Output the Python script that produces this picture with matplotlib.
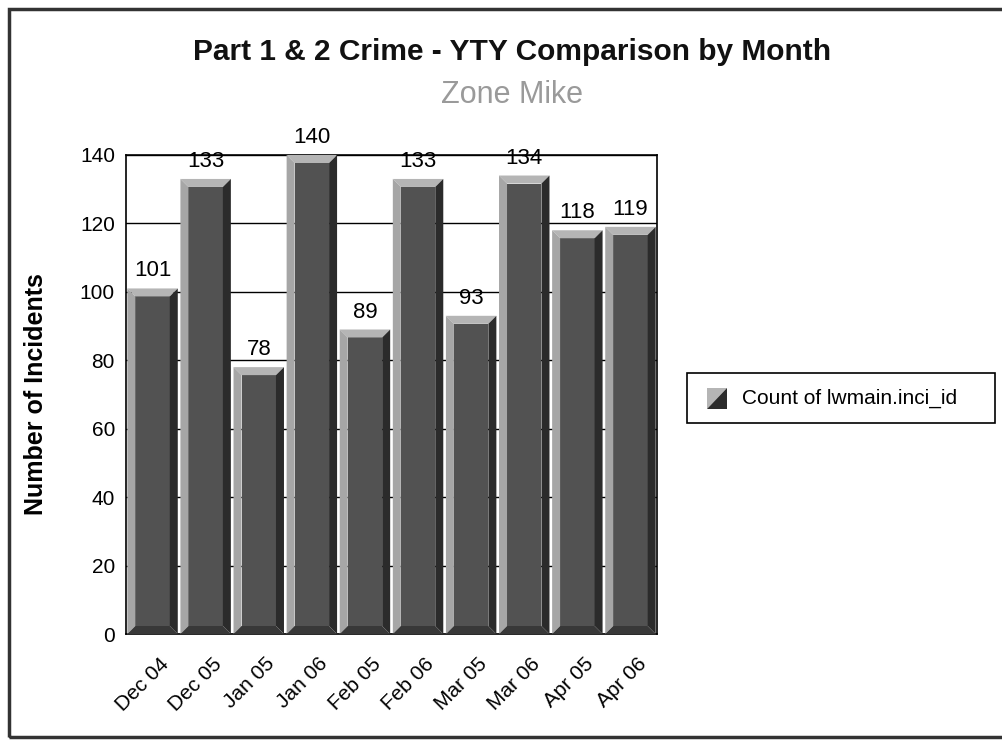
import matplotlib
matplotlib.use("Agg")
import matplotlib.pyplot as plt
from matplotlib.patches import Polygon, Rectangle
from matplotlib.transforms import ScaledTranslation
import numpy as np

plt.rcParams["font.family"] = ["Liberation Sans", "DejaVu Sans"]

# data
MONTHS = ["Dec 04", "Dec 05", "Jan 05", "Jan 06", "Feb 05",
          "Feb 06", "Mar 05", "Mar 06", "Apr 05", "Apr 06"]
COUNTS = [101, 133, 78, 140, 89, 133, 93, 134, 118, 119]
Y_TICKS = [0, 20, 40, 60, 80, 100, 120, 140]

TITLE = "Part 1 & 2 Crime - YTY Comparison by Month"
SUBTITLE = "Zone Mike"
Y_LABEL = "Number of Incidents"
SERIES_NAME = "Count of lwmain.inci_id"

W, H = 1002, 742
FACE = "#525252"
LIGHT = "#a6a6a6"
TOP = "#b5b5b5"
DARK = "#2b2b2b"
BOTTOM = "#383838"


def px(x, y):
    """figure pixel (from top-left) -> figure fraction"""
    return x / W, 1 - y / H


def bevel_bar(ax, xc, value, width, bx, by):
    x0, x1 = xc - width / 2, xc + width / 2
    # face
    ax.add_patch(Rectangle((x0 + bx, by), width - 2 * bx, value - 2 * by,
                           facecolor=FACE, edgecolor="none", zorder=3))
    # top bevel
    ax.add_patch(Polygon([(x0, value), (x1, value), (x1 - bx, value - by),
                          (x0 + bx, value - by)],
                         facecolor=TOP, edgecolor="none", zorder=3))
    # left bevel
    ax.add_patch(Polygon([(x0, value), (x0 + bx, value - by), (x0 + bx, by),
                          (x0, 0)],
                         facecolor=LIGHT, edgecolor="none", zorder=3))
    # right side
    ax.add_patch(Polygon([(x1, value), (x1 - bx, value - by), (x1 - bx, by),
                          (x1, 0)],
                         facecolor=DARK, edgecolor="none", zorder=3))
    # bottom
    ax.add_patch(Polygon([(x0, 0), (x0 + bx, by), (x1 - bx, by), (x1, 0)],
                         facecolor=BOTTOM, edgecolor="none", zorder=3))


fig = plt.figure(figsize=(W / 100, H / 100), dpi=100)
fig.patch.set_facecolor("white")

left, top = px(126, 155)
right, bottom = px(657, 634)
ax = fig.add_axes([left, bottom, right - left, top - bottom])

n = len(MONTHS)
xs = np.arange(n)
ax.set_xlim(-0.5, n - 0.5)
ax.set_ylim(0, 140)

ax_w_px = (right - left) * W
ax_h_px = (top - bottom) * H
bx = 8 / (ax_w_px / n)
by = 8 / (ax_h_px / 140)

for xc, v in zip(xs, COUNTS):
    bevel_bar(ax, xc, v, 0.95, bx, by)
    ax.annotate(str(v), (xc, v), xytext=(0, 5), textcoords="offset points",
                ha="center", va="bottom", fontsize=16, color="black", zorder=5)

ax.set_yticks(Y_TICKS)
ax.set_yticklabels([str(t) for t in Y_TICKS], fontsize=15)
ax.yaxis.grid(True, color="black", linewidth=1.0, zorder=0)
ax.set_axisbelow(True)
ax.tick_params(axis="y", length=0, pad=8)
ax.tick_params(axis="x", length=0, pad=2)

ax.set_xticks(xs)
ax.set_xticklabels(MONTHS, fontsize=15, rotation=45, ha="right",
                   va="center", rotation_mode="anchor")
offset = ScaledTranslation(13 / 100, -24 / 100, fig.dpi_scale_trans)
for lbl in ax.get_xticklabels():
    lbl.set_transform(lbl.get_transform() + offset)

for sp in ax.spines.values():
    sp.set_color("black")
    sp.set_linewidth(1.2)

ax.set_ylabel(Y_LABEL, fontsize=18, fontweight="bold")
ax.yaxis.set_label_coords((48 / W - left) / (right - left), 0.5,
                          transform=ax.transAxes)

fig.text(*px(512, 52), TITLE, ha="center", va="center", fontsize=21.5,
         fontweight="bold", color="#111111")
fig.text(*px(512, 95), SUBTITLE, ha="center", va="center", fontsize=22,
         color="#9a9a9a")

# legend box
lx0, ly0 = px(687, 423)
lx1, ly1 = px(995, 373)
fig.patches.append(Rectangle((lx0, ly0), lx1 - lx0, ly1 - ly0,
                             transform=fig.transFigure, facecolor="white",
                             edgecolor="black", linewidth=1.2))
mx0, my0 = px(707, 409)
mx1, my1 = px(727, 388)
fig.patches.append(Polygon([(mx0, my0), (mx0, my1), (mx1, my1)],
                           transform=fig.transFigure, facecolor=TOP,
                           edgecolor="none"))
fig.patches.append(Polygon([(mx0, my0), (mx1, my1), (mx1, my0)],
                           transform=fig.transFigure, facecolor=DARK,
                           edgecolor="none"))
fig.text(*px(742, 398), SERIES_NAME, ha="left", va="center", fontsize=15)

# outer page frame
fx0, fy0 = px(9, 737)
fx1, fy1 = px(1010, 9)
fig.patches.append(Rectangle((fx0, fy0), fx1 - fx0, fy1 - fy0,
                             transform=fig.transFigure, facecolor="none",
                             edgecolor="#333333", linewidth=2.5))

fig.savefig("out.png", dpi=100)
